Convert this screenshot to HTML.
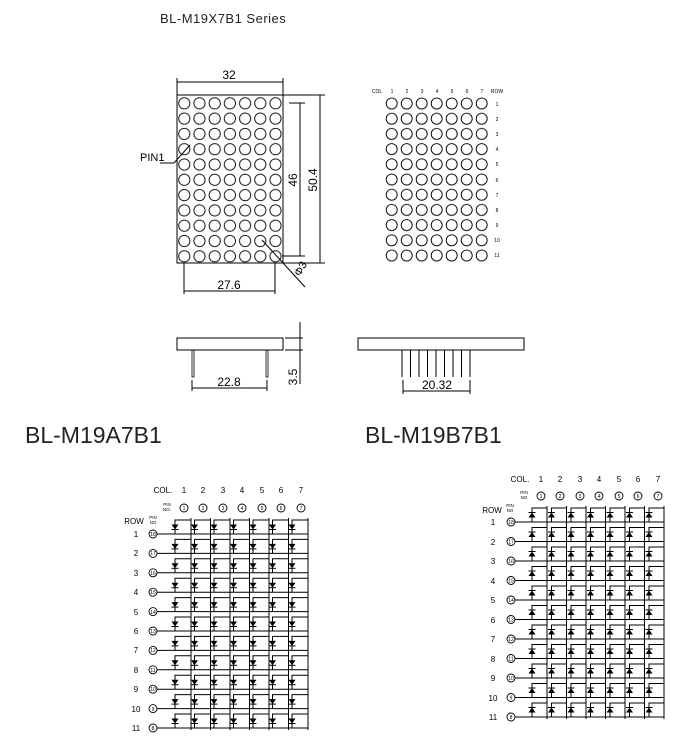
<!DOCTYPE html>
<html><head><meta charset="utf-8"><style>
html,body{margin:0;padding:0;background:#fff;}
svg{display:block;font-family:"Liberation Sans",sans-serif;}
</style></head><body>
<svg width="700" height="739" viewBox="0 0 700 739" xmlns="http://www.w3.org/2000/svg" xmlns:xlink="http://www.w3.org/1999/xlink">
<defs>
<pattern id="cA" x="183" y="103.3" width="15.2" height="15.3" patternUnits="userSpaceOnUse">
<circle cx="1.3" cy="0" r="5.6" fill="none" stroke="#000" stroke-width="0.9"/>
<circle cx="1.3" cy="15.3" r="5.6" fill="none" stroke="#000" stroke-width="0.9"/>
<circle cx="16.5" cy="0" r="5.6" fill="none" stroke="#000" stroke-width="0.9"/>
<circle cx="16.5" cy="15.3" r="5.6" fill="none" stroke="#000" stroke-width="0.9"/>
</pattern>
<pattern id="cB" x="384" y="96" width="15" height="15.2" patternUnits="userSpaceOnUse">
<circle cx="7.7" cy="7.5" r="5.5" fill="none" stroke="#000" stroke-width="0.9"/>
</pattern>
<g id="dA">
<path d="M-16,0 V-14 H0" fill="none" stroke="#000" stroke-width="1"/>
<line x1="-19.5" y1="-4.5" x2="-12.5" y2="-4.5" stroke="#000" stroke-width="1"/>
<polygon points="-19.5,-9.5 -12.5,-9.5 -16,-4.5" fill="#000"/>
</g>
<g id="dB">
<path d="M-15,0 V-14 H0" fill="none" stroke="#000" stroke-width="1"/>
<line x1="-18.5" y1="-9.5" x2="-11.5" y2="-9.5" stroke="#000" stroke-width="1"/>
<polygon points="-18.5,-4.5 -11.5,-4.5 -15,-9.5" fill="#000"/>
</g>
<g id="rowA">
<use xlink:href="#dA" x="191" y="0"/><use xlink:href="#dA" x="210.5" y="0"/><use xlink:href="#dA" x="230" y="0"/><use xlink:href="#dA" x="249.5" y="0"/><use xlink:href="#dA" x="269" y="0"/><use xlink:href="#dA" x="288.5" y="0"/><use xlink:href="#dA" x="308" y="0"/>
<line x1="157" y1="0" x2="308" y2="0" stroke="#000" stroke-width="1"/>
</g>
<g id="rowB">
<use xlink:href="#dB" x="547" y="0"/><use xlink:href="#dB" x="566.5" y="0"/><use xlink:href="#dB" x="586" y="0"/><use xlink:href="#dB" x="605.5" y="0"/><use xlink:href="#dB" x="625" y="0"/><use xlink:href="#dB" x="644.5" y="0"/><use xlink:href="#dB" x="664" y="0"/>
<line x1="515" y1="0" x2="664" y2="0" stroke="#000" stroke-width="1"/>
</g>
</defs>

<text x="160" y="23" font-size="13" fill="#222" letter-spacing="0.5">BL-M19X7B1 Series</text>

<!-- Left front view -->
<g stroke="#000" fill="none" stroke-width="1">
<rect x="177" y="95" width="106" height="168"/>
<line x1="177" y1="82" x2="283" y2="82"/>
<line x1="177" y1="78" x2="177" y2="95"/><line x1="283" y1="78" x2="283" y2="95"/>
<line x1="289" y1="103" x2="305" y2="103"/><line x1="282" y1="256" x2="305" y2="256"/>
<line x1="300" y1="103" x2="300" y2="256"/>
<line x1="283" y1="95" x2="325" y2="95"/><line x1="283" y1="263" x2="325" y2="263"/>
<line x1="320" y1="95" x2="320" y2="263"/>
<line x1="184" y1="263" x2="184" y2="294"/><line x1="275" y1="263" x2="275" y2="294"/>
<line x1="184" y1="291" x2="275" y2="291"/>
<line x1="160" y1="163" x2="174" y2="163"/><line x1="174" y1="163" x2="190" y2="145"/>
<line x1="262" y1="240" x2="305" y2="287"/>
</g>
<rect x="177.5" y="95.5" width="105" height="167" fill="url(#cA)"/>
<text x="229" y="79" font-size="12" text-anchor="middle">32</text>
<text x="140" y="161" font-size="11">PIN1</text>
<text x="229" y="289" font-size="12" text-anchor="middle">27.6</text>
<text transform="translate(297,180) rotate(-90)" font-size="12" text-anchor="middle">46</text>
<text transform="translate(317,180) rotate(-90)" font-size="12" text-anchor="middle">50.4</text>
<text transform="translate(300,277) rotate(-60)" font-size="11">Φ3</text>

<!-- Right pin view -->
<rect x="384" y="96" width="105" height="167.2" fill="url(#cB)"/>
<g font-size="5" text-anchor="middle">
<text x="377" y="93">COL</text>
<text x="392" y="93">1</text><text x="407" y="93">2</text><text x="422" y="93">3</text><text x="437" y="93">4</text><text x="452" y="93">5</text><text x="467" y="93">6</text><text x="482" y="93">7</text><text x="497" y="93">ROW</text>
<text x="497" y="106">1</text><text x="497" y="121">2</text><text x="497" y="136">3</text><text x="497" y="151">4</text><text x="497" y="166">5</text><text x="497" y="182">6</text><text x="497" y="197">7</text><text x="497" y="212">8</text><text x="497" y="227">9</text><text x="497" y="242">10</text><text x="497" y="257">11</text>
</g>

<!-- Side views -->
<g stroke="#000" fill="none" stroke-width="1">
<rect x="177" y="338" width="106" height="12"/>
<rect x="192" y="350" width="2" height="27" stroke-width="0.8"/>
<rect x="266" y="350" width="2" height="27" stroke-width="0.8"/>
<line x1="192" y1="380" x2="192" y2="391"/><line x1="267" y1="380" x2="267" y2="391"/>
<line x1="192" y1="388" x2="267" y2="388"/>
<line x1="300" y1="322" x2="300" y2="384"/>
<line x1="285" y1="338" x2="303" y2="338"/><line x1="285" y1="350" x2="303" y2="350"/>
<rect x="358" y="338" width="166" height="12"/>
<line x1="402" y1="350" x2="402" y2="377"/><line x1="410.5" y1="350" x2="410.5" y2="377"/><line x1="419" y1="350" x2="419" y2="377"/><line x1="427.5" y1="350" x2="427.5" y2="377"/><line x1="436" y1="350" x2="436" y2="377"/><line x1="444.5" y1="350" x2="444.5" y2="377"/><line x1="453" y1="350" x2="453" y2="377"/><line x1="461.5" y1="350" x2="461.5" y2="377"/><line x1="470" y1="350" x2="470" y2="377"/>
<line x1="403" y1="380" x2="403" y2="394"/><line x1="470" y1="380" x2="470" y2="394"/>
<line x1="403" y1="391" x2="470" y2="391"/>
</g>
<text x="229" y="386" font-size="12" text-anchor="middle">22.8</text>
<text x="437" y="389" font-size="12" text-anchor="middle">20.32</text>
<text transform="translate(297,377) rotate(-90)" font-size="12" text-anchor="middle">3.5</text>

<text x="25" y="443" font-size="23" fill="#222">BL-M19A7B1</text>
<text x="365" y="443" font-size="23" fill="#222">BL-M19B7B1</text>

<!-- Schematic A -->
<g stroke="#000" stroke-width="1">
<line x1="191" y1="518" x2="191" y2="730"/><line x1="210.5" y1="518" x2="210.5" y2="730"/><line x1="230" y1="518" x2="230" y2="730"/><line x1="249.5" y1="518" x2="249.5" y2="730"/><line x1="269" y1="518" x2="269" y2="730"/><line x1="288.5" y1="518" x2="288.5" y2="730"/><line x1="308" y1="518" x2="308" y2="730"/>
</g>
<use xlink:href="#rowA" y="534"/><use xlink:href="#rowA" y="553.4"/><use xlink:href="#rowA" y="572.8"/><use xlink:href="#rowA" y="592.2"/><use xlink:href="#rowA" y="611.6"/><use xlink:href="#rowA" y="631"/><use xlink:href="#rowA" y="650.4"/><use xlink:href="#rowA" y="669.8"/><use xlink:href="#rowA" y="689.2"/><use xlink:href="#rowA" y="708.6"/><use xlink:href="#rowA" y="728"/>
<g font-size="8" text-anchor="middle">
<text x="163" y="493">COL.</text>
<text x="184" y="493">1</text><text x="203" y="493">2</text><text x="223" y="493">3</text><text x="242" y="493">4</text><text x="262" y="493">5</text><text x="281" y="493">6</text><text x="301" y="493">7</text>
<text x="134" y="524">ROW</text>
<text x="136" y="537">1</text><text x="136" y="556">2</text><text x="136" y="576">3</text><text x="136" y="595">4</text><text x="136" y="615">5</text><text x="136" y="634">6</text><text x="136" y="653">7</text><text x="136" y="673">8</text><text x="136" y="692">9</text><text x="136" y="712">10</text><text x="136" y="731">11</text>
</g>
<g font-size="4.5" text-anchor="middle"><text x="167" y="506">PIN</text><text x="167" y="511">NO.</text><text x="153" y="519">PIN</text><text x="153" y="524">NO</text></g>
<g stroke="#000" fill="#fff" stroke-width="0.9">
<circle cx="184" cy="508" r="4"/><circle cx="203" cy="508" r="4"/><circle cx="223" cy="508" r="4"/><circle cx="242" cy="508" r="4"/><circle cx="262" cy="508" r="4"/><circle cx="281" cy="508" r="4"/><circle cx="301" cy="508" r="4"/>
<circle cx="153" cy="534" r="4"/><circle cx="153" cy="553.4" r="4"/><circle cx="153" cy="572.8" r="4"/><circle cx="153" cy="592.2" r="4"/><circle cx="153" cy="611.6" r="4"/><circle cx="153" cy="631" r="4"/><circle cx="153" cy="650.4" r="4"/><circle cx="153" cy="669.8" r="4"/><circle cx="153" cy="689.2" r="4"/><circle cx="153" cy="708.6" r="4"/><circle cx="153" cy="728" r="4"/>
</g>
<g font-size="5" text-anchor="middle">
<text x="184" y="510">1</text><text x="203" y="510">2</text><text x="223" y="510">3</text><text x="242" y="510">4</text><text x="262" y="510">5</text><text x="281" y="510">6</text><text x="301" y="510">7</text>
<text x="153" y="536">18</text><text x="153" y="555">17</text><text x="153" y="575">16</text><text x="153" y="594">15</text><text x="153" y="614">14</text><text x="153" y="633">13</text><text x="153" y="652">12</text><text x="153" y="672">11</text><text x="153" y="691">10</text><text x="153" y="711">9</text><text x="153" y="730">8</text>
</g>

<!-- Schematic B -->
<g stroke="#000" stroke-width="1">
<line x1="547" y1="506" x2="547" y2="719"/><line x1="566.5" y1="506" x2="566.5" y2="719"/><line x1="586" y1="506" x2="586" y2="719"/><line x1="605.5" y1="506" x2="605.5" y2="719"/><line x1="625" y1="506" x2="625" y2="719"/><line x1="644.5" y1="506" x2="644.5" y2="719"/><line x1="664" y1="506" x2="664" y2="719"/>
</g>
<use xlink:href="#rowB" y="522"/><use xlink:href="#rowB" y="541.5"/><use xlink:href="#rowB" y="561"/><use xlink:href="#rowB" y="580.5"/><use xlink:href="#rowB" y="600"/><use xlink:href="#rowB" y="619.5"/><use xlink:href="#rowB" y="639"/><use xlink:href="#rowB" y="658.5"/><use xlink:href="#rowB" y="678"/><use xlink:href="#rowB" y="697.5"/><use xlink:href="#rowB" y="717"/>
<g font-size="8" text-anchor="middle">
<text x="520" y="482">COL.</text>
<text x="541" y="482">1</text><text x="560" y="482">2</text><text x="580" y="482">3</text><text x="599" y="482">4</text><text x="619" y="482">5</text><text x="638" y="482">6</text><text x="658" y="482">7</text>
<text x="492" y="513">ROW</text>
<text x="493" y="525">1</text><text x="493" y="545">2</text><text x="493" y="564">3</text><text x="493" y="584">4</text><text x="493" y="603">5</text><text x="493" y="623">6</text><text x="493" y="642">7</text><text x="493" y="662">8</text><text x="493" y="681">9</text><text x="493" y="701">10</text><text x="493" y="720">11</text>
</g>
<g font-size="4.5" text-anchor="middle"><text x="524" y="494">PIN</text><text x="524" y="499">NO</text><text x="510" y="507">PIN</text><text x="510" y="512">NO</text></g>
<g stroke="#000" fill="#fff" stroke-width="0.9">
<circle cx="541" cy="496" r="4"/><circle cx="560" cy="496" r="4"/><circle cx="580" cy="496" r="4"/><circle cx="599" cy="496" r="4"/><circle cx="619" cy="496" r="4"/><circle cx="638" cy="496" r="4"/><circle cx="658" cy="496" r="4"/>
<circle cx="511" cy="522" r="4"/><circle cx="511" cy="541.5" r="4"/><circle cx="511" cy="561" r="4"/><circle cx="511" cy="580.5" r="4"/><circle cx="511" cy="600" r="4"/><circle cx="511" cy="619.5" r="4"/><circle cx="511" cy="639" r="4"/><circle cx="511" cy="658.5" r="4"/><circle cx="511" cy="678" r="4"/><circle cx="511" cy="697.5" r="4"/><circle cx="511" cy="717" r="4"/>
</g>
<g font-size="5" text-anchor="middle">
<text x="541" y="498">1</text><text x="560" y="498">2</text><text x="580" y="498">3</text><text x="599" y="498">4</text><text x="619" y="498">5</text><text x="638" y="498">6</text><text x="658" y="498">7</text>
<text x="511" y="524">18</text><text x="511" y="543.5">17</text><text x="511" y="563">16</text><text x="511" y="582.5">15</text><text x="511" y="602">14</text><text x="511" y="621.5">13</text><text x="511" y="641">12</text><text x="511" y="660.5">11</text><text x="511" y="680">10</text><text x="511" y="699.5">9</text><text x="511" y="719">8</text>
</g>
</svg>
</body></html>
